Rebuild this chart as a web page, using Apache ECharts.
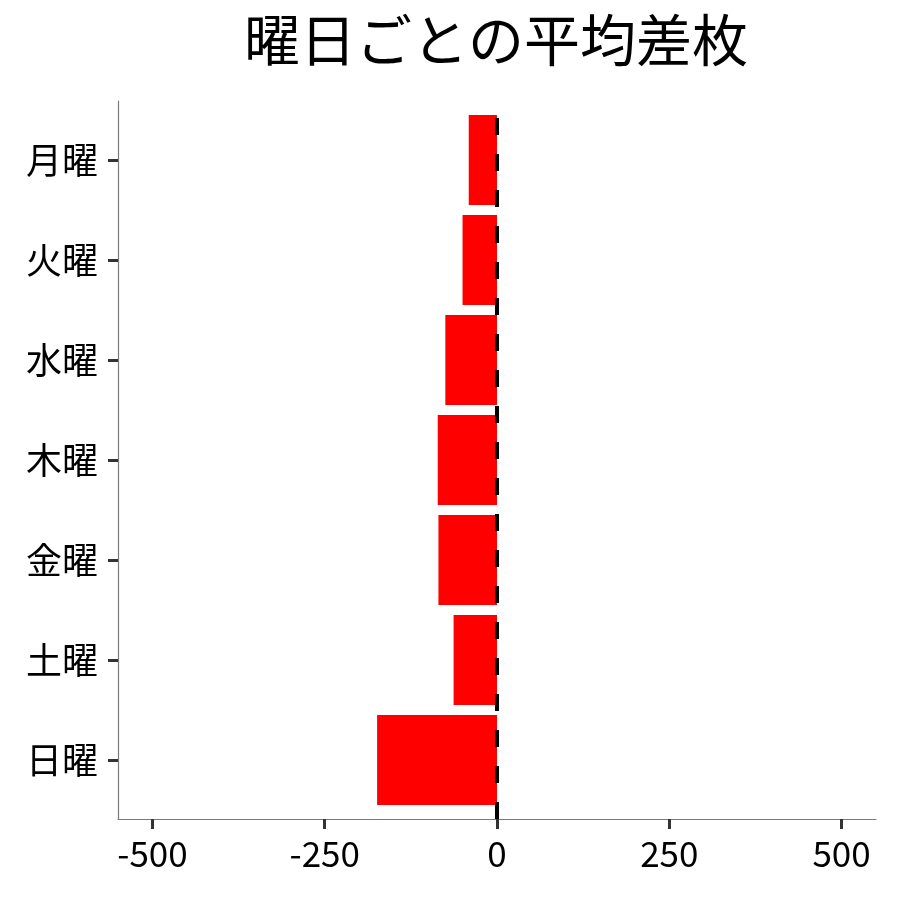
<!DOCTYPE html>
<html>
<head>
<meta charset="utf-8">
<script src="https://cdn.jsdelivr.net/npm/echarts@6/dist/echarts.min.js"></script>
<style>
  html, body { margin: 0; padding: 0; background: #fff; }
  #chart { width: 900px; height: 900px; }
</style>
</head>
<body>
<div id="chart"></div>
<script>
// 曜日ごとの平均差枚
const days = ['月曜', '火曜', '水曜', '木曜', '金曜', '土曜', '日曜']
const avgDiff = [-41, -50, -75, -86, -85, -63, -174]
const xTicks = [-500, -250, 0, 250, 500]

const FONT = '"Noto Sans CJK JP", "Noto Sans", sans-serif'
const AXIS_GRAY = '#7a7a7a'
const TICK_DARK = '#333'

const chart = echarts.init(document.getElementById('chart'), null, { renderer: 'canvas' })

chart.setOption({
    animation: false,
    textStyle: { fontFamily: FONT },
    title: {
        text: '曜日ごとの平均差枚',
        left: 244,
        top: 12,
        padding: 0,
        textStyle: { fontSize: 56, fontWeight: 'normal', color: '#000', fontFamily: FONT }
    },
    grid: [
        // bars: bands of 100px
        { left: 118, width: 758, top: 110, height: 700 },
        // panel frame / x axis
        { left: 118, width: 758, top: 101, height: 718 }
    ],
    xAxis: [
        { gridIndex: 0, type: 'value', min: -550, max: 550, show: false },
        {
            gridIndex: 1, type: 'value', min: -550, max: 550,
            axisLine: { show: true, onZero: false, lineStyle: { color: AXIS_GRAY, width: 1.2 } },
            axisTick: { show: true, length: 10, customValues: xTicks, lineStyle: { color: TICK_DARK, width: 3 } },
            axisLabel: { show: true, customValues: xTicks, margin: 17, fontSize: 35, color: '#000', fontFamily: FONT },
            splitLine: { show: false }
        }
    ],
    yAxis: [
        {
            gridIndex: 0, type: 'category', data: days, inverse: true,
            axisLine: { show: false, onZero: false },
            axisTick: { show: true, alignWithLabel: true, length: 10, lineStyle: { color: TICK_DARK, width: 3 } },
            axisLabel: { margin: 20, fontSize: 36, color: '#000', fontFamily: FONT },
            splitLine: { show: false }
        },
        {
            gridIndex: 1, type: 'value', min: 0, max: 1,
            axisLine: { show: true, onZero: false, lineStyle: { color: AXIS_GRAY, width: 1.2 } },
            axisTick: { show: false },
            axisLabel: { show: false },
            splitLine: { show: false }
        }
    ],
    series: [
        {
            type: 'bar',
            xAxisIndex: 0,
            yAxisIndex: 0,
            data: avgDiff,
            barWidth: '90%',
            itemStyle: { color: '#ff0000' },
            silent: true
        },
        {
            type: 'line',
            xAxisIndex: 1,
            yAxisIndex: 1,
            data: [],
            z: 10,
            markLine: {
                silent: true,
                symbol: 'none',
                label: { show: false },
                lineStyle: { color: '#000', width: 4, type: [17, 19] },
                data: [{ xAxis: 0 }]
            }
        }
    ]
})
</script>
</body>
</html>
